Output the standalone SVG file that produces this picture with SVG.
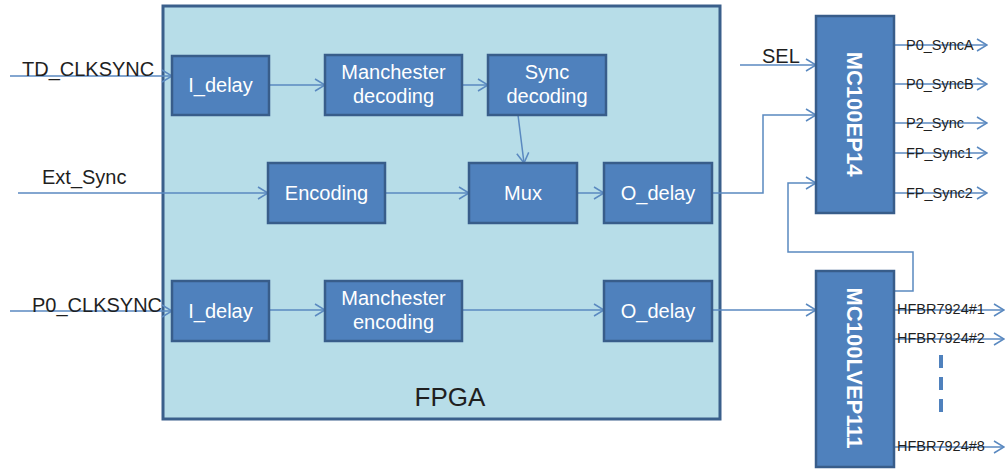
<svg xmlns="http://www.w3.org/2000/svg" width="1006" height="469" viewBox="0 0 1006 469">
<defs>
<style>
.blk{fill:#4f81bd;stroke:#385d8a;stroke-width:2.5}
.bt{font-family:"Liberation Sans",Arial,sans-serif;font-size:20px;fill:#ffffff;text-anchor:middle}
.vt{font-family:"Liberation Sans",Arial,sans-serif;font-size:22px;font-weight:bold;fill:#ffffff;text-anchor:middle}
.lab{font-family:"Liberation Sans",Arial,sans-serif;font-size:20px;fill:#1f1f1f}
.sm{font-family:"Liberation Sans",Arial,sans-serif;font-size:14.5px;fill:#1f1f1f}
.ln{fill:none;stroke:#5a89c0;stroke-width:1.5;marker-end:url(#arr)}
.ln2{fill:none;stroke:#5a89c0;stroke-width:1.5}
</style>
<marker id="arr" markerUnits="userSpaceOnUse" markerWidth="12" markerHeight="14" refX="11" refY="7" orient="auto">
<path d="M1,1 L11,7 L1,13" fill="none" stroke="#5a89c0" stroke-width="1.5"/>
</marker>
</defs>
<rect width="1006" height="469" fill="#ffffff"/>

<g id="fpga">
<rect x="163" y="6" width="557" height="413" fill="#b7dde8" stroke="#3a5f8b" stroke-width="3"/>
<text x="450" y="406" font-family="Liberation Sans,Arial,sans-serif" font-size="26" fill="#1f1f1f" text-anchor="middle">FPGA</text>
</g>

<g id="connectors">
<path class="ln" d="M10,76 H172"/>
<path class="ln" d="M18,193 H268"/>
<path class="ln" d="M10,311 H172"/>
<path class="ln" d="M269,85 H325"/>
<path class="ln" d="M462,85 H488"/>
<path class="ln" d="M518,115 L524,163"/>
<path class="ln" d="M385,193 H469"/>
<path class="ln" d="M577,193 H604"/>
<path class="ln" d="M712,193 H763 V115 H816"/>
<path class="ln" d="M740,65 H816"/>
<path class="ln" d="M894,291 H913 V252 H788 V183 H816"/>
<path class="ln" d="M269,310 H325"/>
<path class="ln" d="M462,310 H604"/>
<path class="ln" d="M712,310 H816"/>
<path class="ln" d="M894,45 H987"/>
<path class="ln" d="M894,84 H987"/>
<path class="ln" d="M894,123 H987"/>
<path class="ln" d="M894,153 H987"/>
<path class="ln" d="M894,193 H987"/>
<path class="ln" d="M894,310 H1004"/>
<path class="ln" d="M894,339 H1004"/>
<path class="ln" d="M894,447 H1004"/>
<path d="M941,355 V420" stroke="#4f81bd" stroke-width="4" stroke-dasharray="13,9" fill="none"/>
</g>

<g id="labels">
<text class="lab" x="22" y="76">TD_CLKSYNC</text>
<text class="lab" x="42" y="184">Ext_Sync</text>
<text class="lab" x="32" y="312">P0_CLKSYNC</text>
<text class="lab" x="762" y="63" font-size="17">SEL</text>
<text class="sm" x="906" y="50">P0_SyncA</text>
<text class="sm" x="906" y="89">P0_SyncB</text>
<text class="sm" x="906" y="128">P2_Sync</text>
<text class="sm" x="906" y="158">FP_Sync1</text>
<text class="sm" x="906" y="198">FP_Sync2</text>
<text class="sm" x="897" y="314">HFBR7924#1</text>
<text class="sm" x="897" y="343">HFBR7924#2</text>
<text class="sm" x="897" y="451">HFBR7924#8</text>
</g>

<g id="i_delay_1"><rect class="blk" x="172" y="56" width="97" height="59"/><text class="bt" x="220.5" y="92">I_delay</text></g>
<g id="manchester_decoding"><rect class="blk" x="325" y="55" width="137" height="60"/><text class="bt" x="393.5" y="79">Manchester</text><text class="bt" x="393.5" y="103">decoding</text></g>
<g id="sync_decoding"><rect class="blk" x="488" y="55" width="118" height="60"/><text class="bt" x="547" y="79">Sync</text><text class="bt" x="547" y="103">decoding</text></g>
<g id="encoding"><rect class="blk" x="268" y="163" width="117" height="60"/><text class="bt" x="326.5" y="200">Encoding</text></g>
<g id="mux"><rect class="blk" x="469" y="163" width="108" height="60"/><text class="bt" x="523" y="200">Mux</text></g>
<g id="o_delay_1"><rect class="blk" x="604" y="163" width="108" height="60"/><text class="bt" x="658" y="200">O_delay</text></g>
<g id="i_delay_2"><rect class="blk" x="172" y="281" width="97" height="60"/><text class="bt" x="220.5" y="318">I_delay</text></g>
<g id="manchester_encoding"><rect class="blk" x="325" y="281" width="137" height="60"/><text class="bt" x="393.5" y="305">Manchester</text><text class="bt" x="393.5" y="329">encoding</text></g>
<g id="o_delay_2"><rect class="blk" x="604" y="281" width="108" height="60"/><text class="bt" x="658" y="318">O_delay</text></g>
<g id="mc100ep14"><rect class="blk" x="816" y="16" width="78" height="197"/><text class="vt" transform="translate(855,114) rotate(90)" y="8">MC100EP14</text></g>
<g id="mc100lvep111"><rect class="blk" x="816" y="271" width="78" height="196"/><text class="vt" transform="translate(855,368) rotate(90)" y="8">MC100LVEP111</text></g>
</svg>
